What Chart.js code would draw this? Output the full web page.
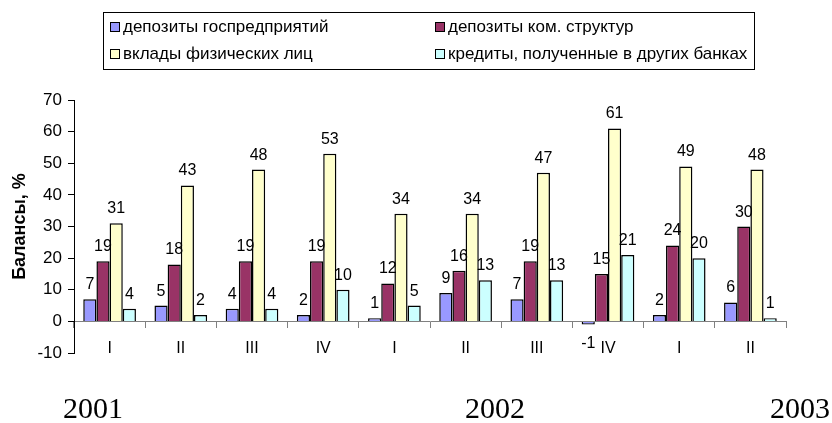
<!DOCTYPE html>
<html>
<head>
<meta charset="utf-8">
<script src="https://cdn.jsdelivr.net/npm/chart.js@4"></script>
<style>
  body { margin: 0; background: #fff; }
  #wrap { position: relative; width: 832px; height: 423px; font-family: Arial, "Liberation Sans", sans-serif; }
  #grafico { position: absolute; left: 0; top: 0; }
  #legenda { position: absolute; left: 103px; top: 12px; width: 652px; height: 58px; border: 1px solid #000; box-sizing: border-box; font-size: 17px; }
  .item { position: absolute; white-space: nowrap; line-height: 19px; }
  .item i { display: inline-block; width: 8px; height: 8px; border: 1px solid #000; margin-right: 3px; vertical-align: 0px; }
  .ano { position: absolute; font-family: "Liberation Serif", "Times New Roman", serif; font-size: 30px; transform: translateX(-50%); }
</style>
</head>
<body>
<div id="wrap">
  <canvas id="grafico" width="832" height="423"></canvas>
  <div id="legenda"></div>
</div>
<script>
// кварталы по оси X
const trimestres = ['I', 'II', 'III', 'IV', 'I', 'II', 'III', 'IV', 'I', 'II'];
const anos = ['2001', '2002', '2003'];

const nomes = ['депозиты госпредприятий', 'депозиты ком. структур', 'вклады физических лиц', 'кредиты, полученные в других банках'];
const cores = ['#9999FF', '#993366', '#FFFFCC', '#CCFFFF'];

const gospred = [7, 5, 4, 2, 1, 9, 7, -1, 2, 6];
const komStrukt = [19, 18, 19, 19, 12, 16, 19, 15, 24, 30];
const vklady = [31, 43, 48, 53, 34, 34, 47, 61, 49, 48];
const kredity = [4, 2, 4, 10, 5, 13, 13, 21, 20, 1];

const series = [gospred, komStrukt, vklady, kredity];

// legenda em HTML
const legenda = document.getElementById('legenda');
const posLeg = [[6, 4], [331, 4], [6, 31], [331, 31]];
nomes.forEach((n, i) => {
  const d = document.createElement('div');
  d.className = 'item';
  d.style.left = posLeg[i][0] + 'px';
  d.style.top = posLeg[i][1] + 'px';
  d.innerHTML = '<i style="background:' + cores[i] + '"></i>' + n;
  legenda.appendChild(d);
});

// anos embaixo
const posAnos = [93, 495, 800];
anos.forEach((a, i) => {
  const s = document.createElement('div');
  s.className = 'ano';
  s.textContent = a;
  s.style.left = posAnos[i] + 'px';
  s.style.top = '391px';
  document.getElementById('wrap').appendChild(s);
});

// rótulos de valor sobre as barras
const rotulos = {
  id: 'rotulos',
  afterDatasetsDraw(chart) {
    const ctx = chart.ctx;
    ctx.save();
    ctx.font = '16px Arial, "Liberation Sans", sans-serif';
    ctx.fillStyle = '#000';
    ctx.textAlign = 'center';
    chart.data.datasets.forEach((ds, i) => {
      chart.getDatasetMeta(i).data.forEach((el, j) => {
        const v = ds.data[j];
        if (v < 0) {
          ctx.textBaseline = 'top';
          ctx.fillText(v, el.x, el.y + 11);
        } else {
          ctx.textBaseline = 'alphabetic';
          ctx.fillText(v, el.x, el.y - 10);
        }
      });
    });
    ctx.restore();
  }
};

new Chart(document.getElementById('grafico'), {
  type: 'bar',
  data: {
    labels: trimestres,
    datasets: series.map((s, i) => ({
      label: nomes[i],
      data: s,
      backgroundColor: cores[i],
      borderColor: '#000',
      borderWidth: 1.5,
      categoryPercentage: 0.74,
      barPercentage: 1
    }))
  },
  options: {
    responsive: false,
    animation: false,
    layout: { padding: { left: 0, top: 100, right: 46, bottom: 70 } },
    plugins: { legend: { display: false }, tooltip: { enabled: false } },
    scales: {
      x: {
        position: { y: 0 },
        afterFit: s => { s.height = 0; },
        grid: { offset: true, drawOnChartArea: false, tickLength: 6, color: '#808080' },
        border: { color: '#808080', width: 1 },
        ticks: { font: { size: 16, family: 'Arial' }, color: '#000', padding: 12 }
      },
      y: {
        min: -10,
        max: 70,
        afterFit: s => { s.width = 74; },
        ticks: { stepSize: 10, font: { size: 17, family: 'Arial' }, color: '#000', padding: 6 },
        grid: { drawOnChartArea: false, tickLength: 6, color: '#000' },
        border: { color: '#000', width: 1 },
        title: { display: true, text: 'Балансы, %', font: { size: 18, weight: 'bold', family: 'Arial' }, color: '#000', padding: { top: 9, bottom: 0 } }
      }
    }
  },
  plugins: [rotulos]
});
</script>
</body>
</html>
